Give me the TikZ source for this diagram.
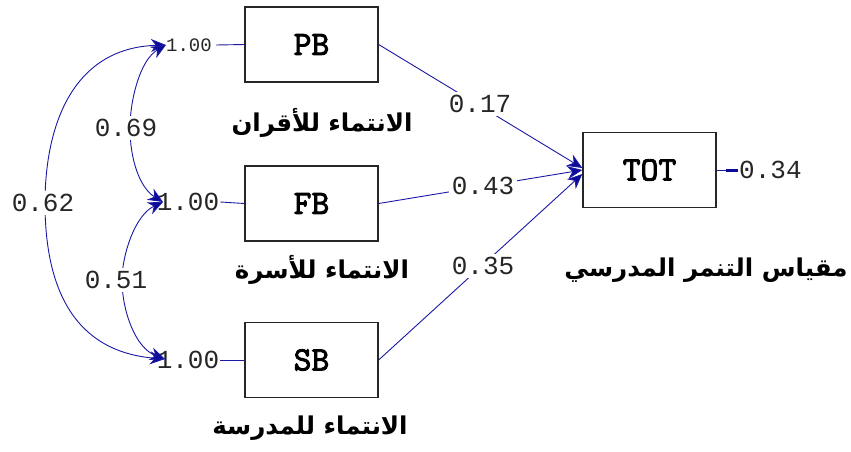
\documentclass[tikz,border=0pt]{standalone}
\usepackage{fontspec}
\usetikzlibrary{arrows.meta}
\TeXXeTstate=1
\newfontfamily\arabicfont[Script=Arabic]{DejaVu Sans}
\newfontfamily\monofont{Liberation Mono}
\newfontfamily\boxfont[FakeBold=2.5]{lmmono10-regular.otf}
\definecolor{semblue}{RGB}{25,25,165}
\definecolor{tipblue}{RGB}{10,10,150}
\begin{document}
\begin{tikzpicture}[x=1pt,y=-1pt,
  var/.style={draw=black!85, line width=1.3pt, minimum width=133pt, minimum height=75pt, inner sep=0pt, font=\boxfont\fontsize{34}{34}\selectfont},
  num/.style={font=\monofont\fontsize{26}{26}\selectfont, inner sep=1pt, text=black!85},
  smallnum/.style={font=\monofont\fontsize{19}{19}\selectfont, inner sep=1pt, text=black!85},
  lbl/.style={num, fill=white, inner sep=3pt},
  ar/.style={font=\arabicfont\bfseries\fontsize{24.5}{24.5}\selectfont},
  conn/.style={draw=semblue, line width=0.9pt},
  tip/.style={-{Stealth[length=15pt,width=13pt,fill=tipblue]}},
  dtip/.style={{Stealth[length=15pt,width=13pt,fill=tipblue]}-{Stealth[length=15pt,width=13pt,fill=tipblue]}}
]
\useasboundingbox[fill=white] (0,0) rectangle (851,451);
% boxes
\node[var] (pb) at (311.5,44.5) {PB};
\node[var] (fb) at (311.5,203.5) {FB};
\node[var] (sb) at (311.5,360) {SB};
\node[var] (tot) at (649.5,170) {TOT};
% variances
\node[smallnum] (pbv) at (189,45) {1.00};
\node[num] (fbv) at (188,202) {1.00};
\node[num] (sbv) at (188,360) {1.00};
\draw[conn] (216,45) -- (pb.west);
\draw[conn] (fbv.east) -- (fb.west);
\draw[conn] (sbv.east) -- (sb.west);
% end points of the covariance arcs
\coordinate (pbt) at (166,45);
\coordinate (fbt) at (163,202);
\coordinate (sbt) at (165,359);
% covariances
\draw[conn,dtip] (pbt) .. controls (70,48) and (45,130) .. (45,203) .. controls (45,290) and (75,352) .. (sbt);
\draw[conn,dtip] (pbt) .. controls (140,60) and (130,100) .. (130,128) .. controls (130,160) and (140,188) .. (fbt);
\draw[conn,dtip] (fbt) .. controls (135,215) and (122,255) .. (122,280) .. controls (122,310) and (135,348) .. (sbt);
\node[lbl] (c62) at (43,203) {0.62};
\node[lbl] (c69) at (126,128) {0.69};
\node[lbl] (c51) at (116,280) {0.51};
% paths
\draw[conn,tip] (pb.east) -- ([yshift=2pt]tot.west);
\draw[conn,tip] (fb.east) -- (tot.west);
\draw[conn,tip] (sb.east) -- ([yshift=-4pt]tot.west);
\node[lbl] (p17) at (480,104) {0.17};
\node[lbl] (p43) at (483,186) {0.43};
\node[lbl] (p35) at (483,266) {0.35};
% error
\node[num, anchor=west] (err) at (738,170) {0.34};
\draw[conn] (tot.east) -- (err.west);
\draw[tipblue, line width=3pt] (726,170) -- (err.west);
% arabic labels
\node[ar] (lpb) at (322,123) {\arabicfont\bfseries\beginR الانتماء للأقران\endR};
\node[ar] (lfb) at (322,270) {\arabicfont\bfseries\beginR الانتماء للأسرة\endR};
\node[ar] (lsb) at (310,428) {\arabicfont\bfseries\beginR الانتماء للمدرسة\endR};
\node[ar] (ltot) at (706,270) {\arabicfont\bfseries\beginR مقياس التنمر المدرسي\endR};
\end{tikzpicture}
\end{document}
